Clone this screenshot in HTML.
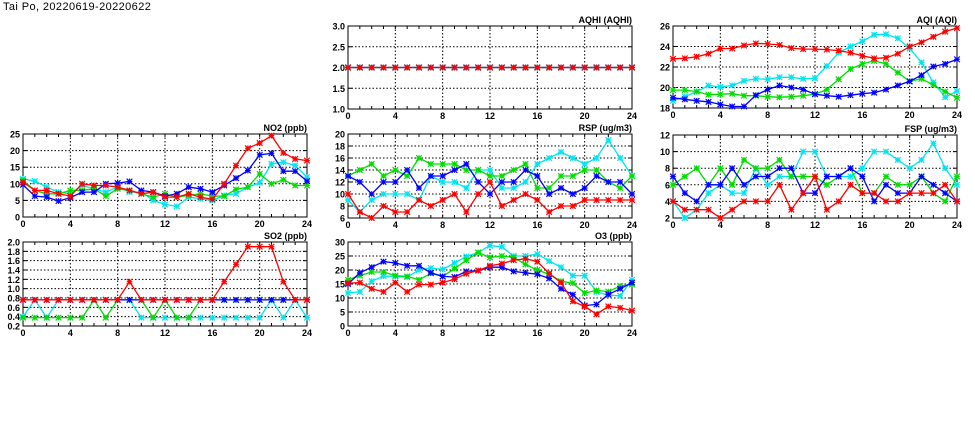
<!DOCTYPE html>
<html><head><meta charset="utf-8"><style>
body{margin:0;background:#fff;}
svg{display:block;font-family:"Liberation Sans",sans-serif;}
</style></head><body>
<svg id="chart" width="975" height="447" viewBox="0 0 975 447" xmlns="http://www.w3.org/2000/svg">
<text x="3" y="10" font-size="11" letter-spacing="0.4" fill="#000">Tai Po, 20220619-20220622</text>
</svg>
<script>
const hours = [0,1,2,3,4,5,6,7,8,9,10,11,12,13,14,15,16,17,18,19,20,21,22,23,24];
const seriesColors = ['#00e5ee','#00dd00','#0000ff','#ff0000']; // cyan, green, blue, red (draw order)

const aqhiCyan  = [2,2,2,2,2,2,2,2,2,2,2,2,2,2,2,2,2,2,2,2,2,2,2,2,2];
const aqhiGreen = [2,2,2,2,2,2,2,2,2,2,2,2,2,2,2,2,2,2,2,2,2,2,2,2,2];
const aqhiBlue  = [2,2,2,2,2,2,2,2,2,2,2,2,2,2,2,2,2,2,2,2,2,2,2,2,2];
const aqhiRed   = [2,2,2,2,2,2,2,2,2,2,2,2,2,2,2,2,2,2,2,2,2,2,2,2,2];

const aqiRed   = [22.8,22.85,23,23.3,23.8,23.8,24.1,24.3,24.25,24.15,23.85,23.75,23.75,23.7,23.6,23.4,23.1,22.85,22.9,23.3,24,24.4,24.95,25.45,25.8];
const aqiGreen = [19.75,19.75,19.6,19.3,19.35,19.4,19.2,19.2,19.1,19.05,19.1,19.2,19.35,19.8,20.8,21.8,22.3,22.6,22.3,21.45,20.6,20.85,20.25,19.6,19];
const aqiBlue  = [19,18.85,18.7,18.6,18.35,18.15,18.15,19.25,19.8,20.2,20,19.8,19.35,19.2,19.1,19.25,19.4,19.5,19.8,20.2,20.6,21.2,22.05,22.3,22.75];
const aqiCyan  = [18.7,19.1,19.6,20.2,20.05,20.2,20.65,20.85,20.8,21,21,20.85,20.9,22.1,23.4,24,24.5,25.15,25.2,24.8,23.8,22.45,20.5,19.05,19.65];

const no2Red   = [10.5,8,8,7,6.3,10,9.5,9.5,9,8,7,7.5,6,6,7,6,5.3,10,15.5,20.7,22.3,24.5,19.3,17.5,17];
const no2Green = [11,8,7,7,8,8,8.5,6.3,8.5,8,7,6,7,6,6.5,7,6.3,6.3,8.3,9,13,10,11.2,9.5,9.5];
const no2Blue  = [9.7,6.3,6,4.8,5.8,7.5,7.5,10,10.2,10.7,8,7.5,6.3,7,9,8.5,7.5,9.5,11.7,14,18.7,19.2,13.8,13.8,10.8];
const no2Cyan  = [11.5,10.8,9,7.5,7,9.5,8.5,7.5,9,7.5,7.5,5,3.8,3.2,6,5.5,5,6.5,7,9,10.3,16,16.5,15.5,12];

const rspRed   = [10,7,6,8,7,7,9,8,9,10,7,10,12,8,9,10,9,7,8,8,9,9,9,9,9];
const rspGreen = [13,14,15,13,14,13,16,15,15,15,14,14,13,13,14,15,11,11,13,13,14,14,12,11,13];
const rspBlue  = [13,12,10,12,12,14,11,13,13,14,15,12,10,12,12,14,13,10,11,10,11,13,12,12,10];
const rspCyan  = [9,7,9,10,10,10,9,13,12,12,11,14,14,11,11,12,15,16,17,16,15,16,19,16,13];

const fspRed   = [4,3,3,3,2,3,4,4,4,6,3,5,7,3,4,6,5,5,4,4,5,5,5,6,4];
const fspGreen = [6,7,8,6,8,6,9,8,8,9,7,7,7,6,7,8,5,5,7,6,6,7,5,4,7];
const fspBlue  = [7,5,4,6,6,8,6,7,7,8,8,5,5,7,7,8,7,4,6,5,5,7,6,5,4];
const fspCyan  = [4,2,3,5,6,5,5,8,6,7,7,10,10,7,7,7,8,10,10,9,8,9,11,8,6];

const so2Red   = [0.76,0.76,0.76,0.76,0.76,0.76,0.76,0.76,0.76,1.15,0.76,0.76,0.76,0.76,0.76,0.76,0.76,1.15,1.52,1.9,1.9,1.9,1.15,0.76,0.76];
const so2Green = [0.38,0.38,0.38,0.38,0.38,0.38,0.76,0.38,0.76,0.76,0.76,0.38,0.76,0.38,0.38,0.76,0.76,0.76,0.76,0.76,0.76,0.76,0.76,0.76,0.76];
const so2Blue  = [0.76,0.76,0.76,0.76,0.76,0.76,0.76,0.76,0.76,0.76,0.76,0.76,0.76,0.76,0.76,0.76,0.76,0.76,0.76,0.76,0.76,0.76,0.76,0.76,0.76];
const so2Cyan  = [0.4,0.76,0.38,0.76,0.76,0.76,0.76,0.76,0.76,0.76,0.38,0.38,0.38,0.38,0.38,0.38,0.38,0.38,0.38,0.38,0.38,0.76,0.38,0.76,0.38];

const o3Red   = [15.3,15.5,13.3,12.2,15.5,12.2,14.8,14.8,15.5,16.7,18.7,19.8,21.5,22.3,23.5,24,23,18.8,15.5,8.8,7,4.2,7,6.5,5.5];
const o3Green = [16.5,18,19.3,19.3,18,17.7,16.5,18.8,17.7,20.5,23.5,26.2,24.5,25,24.5,22,20,18.5,16,15.3,11.8,12.7,12.3,14.3,14.8];
const o3Blue  = [15,19,21,23,22.5,21.5,21.5,19,17.7,17.5,19.5,19.8,21,21,19.5,19,18.5,17,13.3,11.2,7.3,7.7,11.3,13.3,15.5];
const o3Cyan  = [11.8,12.2,16,17.8,17.7,17.5,20,20.7,20.2,22.5,24.8,26.3,28.7,28.3,25,25,25.7,23.2,21,18,18,12.2,11,10.8,16.5];

const xTickLabels = [0,4,8,12,16,20,24];
const aqhiTicks = [1.0,1.5,2.0,2.5,3.0];
const aqiTicks = [18,20,22,24,26];
const no2Ticks = [0,5,10,15,20,25];
const rspTicks = [6,8,10,12,14,16,18,20];
const fspTicks = [2,4,6,8,10,12];
const so2Ticks = [0.2,0.4,0.6,0.8,1.0,1.2,1.4,1.6,1.8,2.0];
const o3Ticks = [0,5,10,15,20,25,30];

const NS = 'http://www.w3.org/2000/svg';
const svg = document.getElementById('chart');
function mk(tag, attrs, parent){
  const e = document.createElementNS(NS, tag);
  for (const k in attrs) e.setAttribute(k, attrs[k]);
  (parent||svg).appendChild(e);
  return e;
}

function panel(name, title, x0, x1, y0, y1, ticks, dec, series){
  const ymin = ticks[0], ymax = ticks[ticks.length-1];
  const xs = h => x0 + (h/24)*(x1-x0);
  const ys = v => y1 - (v-ymin)/(ymax-ymin)*(y1-y0);
  const g = mk('g', {});
  
  
  ticks.forEach(t => {
    const y = ys(t);
    if (t !== ymin && t !== ymax) {
      const l = mk('line', {x1:x0, x2:x1, y1:y, y2:y, stroke:'#000', 'stroke-width':1, 'stroke-dasharray':'1.5,2'}, g);
      
      
    }
    mk('line', {x1:x0, x2:x0+4, y1:y, y2:y, stroke:'#000'}, g);
    mk('line', {x1:x1-4, x2:x1, y1:y, y2:y, stroke:'#000'}, g);
    const tx = mk('text', {x:x0-3, y:y+3.5, 'font-size':9, 'font-weight':'bold', 'text-anchor':'end', fill:'#000'}, g);
    tx.textContent = t.toFixed(dec);
    
    
  });
  for (let h = 0; h <= 24; h++) {
    const x = xs(h);
    mk('line', {x1:x, x2:x, y1:y1, y2:y1-3, stroke:'#000'}, g);
    mk('line', {x1:x, x2:x, y1:y0, y2:y0+3, stroke:'#000'}, g);
  }
  xTickLabels.forEach(h => {
    const x = xs(h);
    if (h !== 0 && h !== 24) {
      const l = mk('line', {x1:x, x2:x, y1:y0, y2:y1, stroke:'#000', 'stroke-width':1, 'stroke-dasharray':'1.5,2'}, g);
      
      
    }
    const tx = mk('text', {x:x, y:y1+10, 'font-size':9, 'font-weight':'bold', 'text-anchor':'middle', fill:'#000'}, g);
    tx.textContent = h;
    
    
  });
  const fr = mk('rect', {x:x0, y:y0, width:x1-x0, height:y1-y0, fill:'none', stroke:'#000', 'stroke-width':1}, g);
  
  
  const tt = mk('text', {x:x1, y:y0-3, 'font-size':9, 'font-weight':'bold', 'text-anchor':'end', fill:'#000'}, g);
  tt.textContent = title;
  
  
  const cnames = ['cyan','green','blue','red'];
  series.forEach((vals, i) => {
    const col = seriesColors[i];
    const pts = vals.map((v, h) => xs(hours[h]).toFixed(1) + ',' + ys(v).toFixed(1)).join(' ');
    const pl = mk('polyline', {points:pts, fill:'none', stroke:col, 'stroke-width':1.3}, g);
    
    
    vals.forEach((v, h) => {
      const x = xs(hours[h]), y = ys(v), r = 2.8;
      const m = mk('path', {d:`M${x-r},${y-r}L${x+r},${y+r}M${x-r},${y+r}L${x+r},${y-r}M${x},${y-r}L${x},${y+r}M${x-r},${y}L${x+r},${y}`, stroke:col, 'stroke-width':1.2, fill:'none'}, g);
      
      
    });
  });
}

panel('aqhi', 'AQHI (AQHI)', 348, 632, 26, 109, aqhiTicks, 1, [aqhiCyan, aqhiGreen, aqhiBlue, aqhiRed]);
panel('aqi', 'AQI (AQI)', 673, 957, 26, 108, aqiTicks, 0, [aqiCyan, aqiGreen, aqiBlue, aqiRed]);
panel('no2', 'NO2 (ppb)', 23, 307, 134, 217, no2Ticks, 0, [no2Cyan, no2Green, no2Blue, no2Red]);
panel('rsp', 'RSP (ug/m3)', 348, 632, 134, 218, rspTicks, 0, [rspCyan, rspGreen, rspBlue, rspRed]);
panel('fsp', 'FSP (ug/m3)', 673, 957, 135, 218, fspTicks, 0, [fspCyan, fspGreen, fspBlue, fspRed]);
panel('so2', 'SO2 (ppb)', 23, 307, 242, 326, so2Ticks, 1, [so2Cyan, so2Green, so2Blue, so2Red]);
panel('o3', 'O3 (ppb)', 348, 632, 242, 326, o3Ticks, 0, [o3Cyan, o3Green, o3Blue, o3Red]);
</script>
</body></html>
